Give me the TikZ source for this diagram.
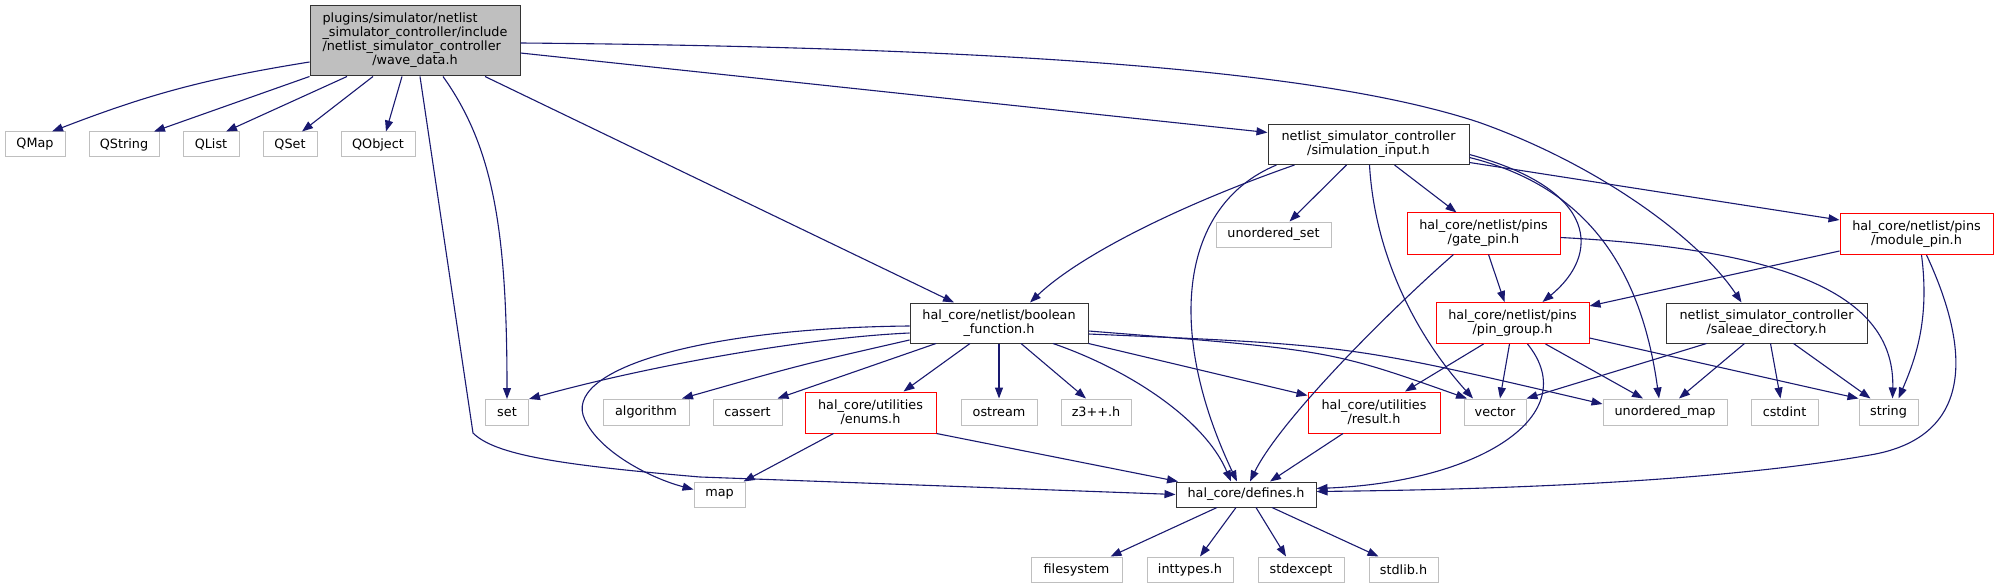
\documentclass[tikz,border=0pt]{standalone}
\usepackage{fontspec}
\setmainfont{DejaVu Sans}
\usetikzlibrary{arrows.meta,positioning}
\definecolor{edgeblue}{RGB}{25,25,112}
\definecolor{boxgrey}{RGB}{191,191,191}

\begin{document}
\begin{tikzpicture}[
    x=1pt, y=-1pt,
    font=\fontsize{12.8}{14}\selectfont,
    file/.style={rectangle, draw=black!80, fill=white, line width=1pt, inner sep=1pt, align=center},
    mainfile/.style={file, fill=boxgrey},
    sysfile/.style={file, draw=boxgrey, minimum height=25},
    cutfile/.style={file, draw=red, minimum height=41},
    twoline/.style={minimum height=40},
    dep/.style={-{Triangle[length=11pt,width=8pt]}, edgeblue, line width=1.1pt}
]
    \fill[white] (0,0) rectangle (1999,588);
    \useasboundingbox (0,0) rectangle (1999,588);

    % The header itself
    \node[mainfile, minimum width=210, minimum height=70] (wd) at (415,41)
        {\begin{tabular}{@{}l@{}}plugins/simulator/netlist\\\_simulator\_controller/include\\/netlist\_simulator\_controller\\\multicolumn{1}{@{}c@{}}{/wave\_data.h}\end{tabular}};

    % Qt headers
    \node[sysfile, minimum width=60] (qmap) at (35,144.5) {QMap};
    \node[sysfile, minimum width=70] (qstring) at (124,144.5) {QString};
    \node[sysfile, minimum width=56] (qlist) at (211,144.5) {QList};
    \node[sysfile, minimum width=54] (qset) at (290,144.5) {QSet};
    \node[sysfile, minimum width=74] (qobject) at (378,144.5) {QObject};

    % Project headers
    \node[file, twoline, minimum width=201] (si) at (1368.5,144.5) {netlist\_simulator\_controller\\/simulation\_input.h};
    \node[sysfile, minimum width=115] (uset) at (1273.5,234.5) {unordered\_set};
    \node[cutfile, minimum width=153] (gp) at (1483.5,233.5) {hal\_core/netlist/pins\\/gate\_pin.h};
    \node[cutfile, minimum width=153] (mp) at (1916.5,234) {hal\_core/netlist/pins\\/module\_pin.h};
    \node[file, twoline, minimum width=178] (bf) at (999,323) {hal\_core/netlist/boolean\\\_function.h};
    \node[cutfile, minimum width=153] (pg) at (1512.5,323) {hal\_core/netlist/pins\\/pin\_group.h};
    \node[file, twoline, minimum width=201] (sd) at (1766.5,323) {netlist\_simulator\_controller\\/saleae\_directory.h};
    \node[cutfile, minimum width=131] (enums) at (870.5,412.5) {hal\_core/utilities\\/enums.h};
    \node[cutfile, minimum width=132] (result) at (1374,412.5) {hal\_core/utilities\\/result.h};
    \node[file, minimum width=140, minimum height=25] (defines) at (1246,494.5) {hal\_core/defines.h};

    % System headers
    \node[sysfile, minimum width=43, minimum height=26] (set) at (507,412.5) {set};
    \node[sysfile, minimum width=86, minimum height=26] (algorithm) at (646,412) {algorithm};
    \node[sysfile, minimum width=69, minimum height=26] (cassert) at (747.5,412) {cassert};
    \node[sysfile, minimum width=76, minimum height=26] (ostream) at (999,412) {ostream};
    \node[sysfile, minimum width=70, minimum height=26] (z3) at (1096,412) {z3++.h};
    \node[sysfile, minimum width=62, minimum height=26] (vector) at (1495,412) {vector};
    \node[sysfile, minimum width=124, minimum height=26] (umap) at (1665,412) {unordered\_map};
    \node[sysfile, minimum width=67, minimum height=26] (cstdint) at (1784.5,412) {cstdint};
    \node[sysfile, minimum width=59, minimum height=26] (string) at (1888.5,412) {string};
    \node[sysfile, minimum width=51] (map) at (719.5,494.5) {map};
    \node[sysfile, minimum width=91] (filesystem) at (1076.5,569.5) {filesystem};
    \node[sysfile, minimum width=86] (inttypes) at (1190,569.5) {inttypes.h};
    \node[sysfile, minimum width=86] (stdexcept) at (1301,569.5) {stdexcept};
    \node[sysfile, minimum width=69] (stdlib) at (1403.5,569.5) {stdlib.h};

    % Includes of wave_data.h
    \draw[dep] ([yshift=-21]wd.west) to[bend right=6] ([xshift=17]qmap.north);
    \draw[dep] (wd.south west) -- ([xshift=30]qstring.north);
    \draw[dep] ([xshift=-68]wd.south) -- ([xshift=15]qlist.north);
    \draw[dep] ([xshift=-42]wd.south) -- ([xshift=12]qset.north);
    \draw[dep] ([xshift=-13]wd.south) -- ([xshift=8]qobject.north);
    \draw[dep] ([xshift=28]wd.south) .. controls +(50,70) and +(0,-170) .. (set.north);
    \draw[dep] ([xshift=5]wd.south) -- (473,433) .. controls (495,455) and (560,465) .. (700,477) -- (defines.west);
    \draw[dep] ([xshift=70]wd.south) -- ([xshift=-45]bf.north);
    \draw[dep] ([yshift=-12]wd.east) -- ([yshift=12]si.west);
    \draw[dep] ([yshift=-2]wd.east) .. controls (1100,48) and (1350,80) .. (1478,122)
        .. controls (1600,165) and (1700,240) .. ([xshift=-25]sd.north);

    % Includes of simulation_input.h
    \draw[dep] ([xshift=-74]si.south) .. controls (1180,205) and (1080,255) .. ([xshift=31]bf.north);
    \draw[dep] ([xshift=-22]si.south) -- ([xshift=16]uset.north);
    \draw[dep] ([xshift=-92]si.south) .. controls (1180,205) and (1165,330) .. ([xshift=-9]defines.north);
    \draw[dep] ([xshift=1]si.south) .. controls (1375,260) and (1420,340) .. ([xshift=-22]vector.north);
    \draw[dep] ([xshift=26]si.south) -- ([xshift=-27]gp.north);
    \draw[dep] ([yshift=-10]si.east) .. controls (1600,190) and (1600,255) .. ([xshift=30]pg.north);
    \draw[dep] ([yshift=-13]si.east) .. controls (1580,185) and (1640,260) .. ([xshift=-6]umap.north);
    \draw[dep] ([yshift=-18]si.east) -- ([yshift=14]mp.west);

    % Includes of the pin headers
    \draw[dep] ([xshift=5]gp.south) -- ([xshift=-8]pg.north);
    \draw[dep] ([xshift=-30]gp.south) .. controls (1390,310) and (1280,420) .. ([xshift=4]defines.north);
    \draw[dep] ([yshift=-4]gp.east) .. controls (1800,250) and (1895,300) .. ([xshift=4]string.north);
    \draw[dep] ([yshift=-17]mp.west) -- ([yshift=17]pg.east);
    \draw[dep] ([xshift=5]mp.south) .. controls (1930,320) and (1915,360) .. ([xshift=10]string.north);
    \draw[dep] ([xshift=10]mp.south) .. controls (1980,370) and (1960,440) .. (1870,455)
        .. controls (1700,485) and (1450,490) .. ([yshift=3]defines.east);
    \draw[dep] ([xshift=-29]pg.south) -- ([xshift=31]result.north);
    \draw[dep] ([xshift=-3]pg.south) -- ([xshift=5]vector.north);
    \draw[dep] ([xshift=15]pg.south) .. controls (1585,415) and (1480,482) .. ([yshift=6]defines.east);
    \draw[dep] ([xshift=33]pg.south) -- ([xshift=-22]umap.north);
    \draw[dep] ([yshift=-15]pg.east) -- ([xshift=-30]string.north);

    % Includes of saleae_directory.h
    \draw[dep] ([xshift=-60]sd.south) -- (vector.north east);
    \draw[dep] ([xshift=-22]sd.south) -- ([xshift=14]umap.north);
    \draw[dep] ([xshift=4]sd.south) -- ([xshift=-4]cstdint.north);
    \draw[dep] ([xshift=27]sd.south) -- ([xshift=-18]string.north);

    % Includes of boolean_function.h
    \draw[dep] ([yshift=-10]bf.west) .. controls (800,338) and (640,368) .. (set.north east);
    \draw[dep] ([yshift=-3]bf.west) .. controls (700,328) and (560,370) .. (585,420)
        .. controls (600,452) and (650,478) .. ([yshift=5]map.west);
    \draw[dep] ([yshift=-17]bf.west) .. controls (800,365) .. ([xshift=36]algorithm.north);
    \draw[dep] ([xshift=-63]bf.south) -- ([xshift=30]cassert.north);
    \draw[dep] ([xshift=-29]bf.south) -- ([xshift=33]enums.north);
    \draw[dep] (bf) -- (ostream);
    \draw[dep] ([xshift=22]bf.south) -- ([xshift=-10]z3.north);
    \draw[dep] ([xshift=54]bf.south) .. controls (1130,370) and (1205,420) .. ([xshift=-15]defines.north);
    \draw[dep] (bf.south east) -- ([yshift=-4]result.north west);
    \draw[dep] ([yshift=-8]bf.east) .. controls (1330,350) .. ([xshift=-28]vector.north);
    \draw[dep] ([yshift=-11]bf.east) .. controls (1350,345) .. ([yshift=8]umap.west);

    % Includes of the utilities
    \draw[dep] ([xshift=-37]enums.south) -- ([xshift=24]map.north);
    \draw[dep] (enums.south east) -- ([xshift=-68]defines.north);
    \draw[dep] ([xshift=-31]result.south) -- ([xshift=24]defines.north);

    % Includes of defines.h
    \draw[dep] ([xshift=-29]defines.south) -- ([xshift=34]filesystem.north);
    \draw[dep] ([xshift=-10]defines.south) -- ([xshift=10]inttypes.north);
    \draw[dep] ([xshift=10]defines.south) -- ([xshift=-15]stdexcept.north);
    \draw[dep] ([xshift=26]defines.south) -- ([xshift=-25]stdlib.north);
\end{tikzpicture}
\end{document}
